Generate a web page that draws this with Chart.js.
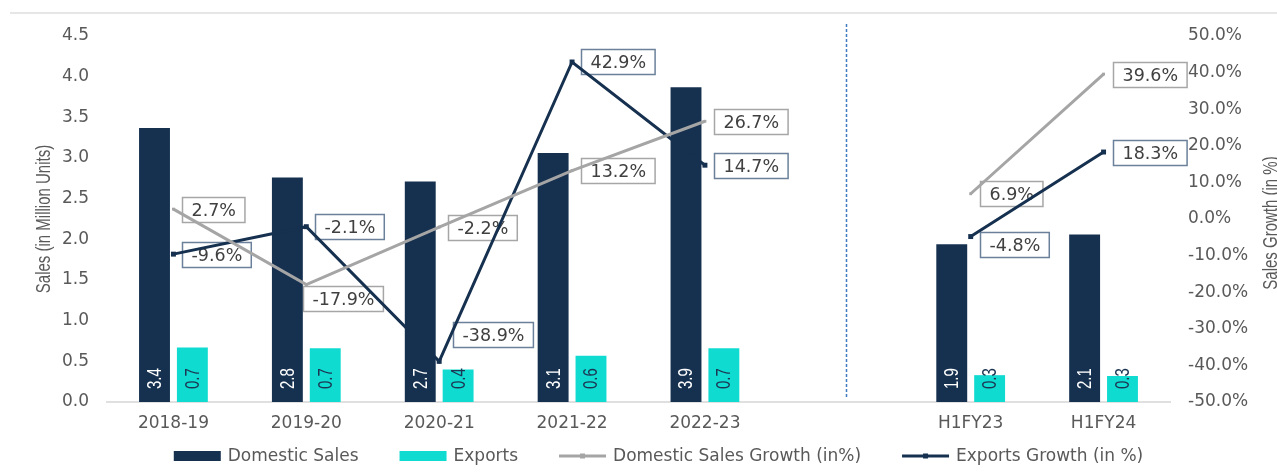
<!DOCTYPE html>
<html><head><meta charset="utf-8">
<script src="https://cdn.jsdelivr.net/npm/chart.js@4.4.1/dist/chart.umd.min.js"></script>
<style>html,body{margin:0;padding:0;background:#fff;}canvas{display:block;}</style>
</head><body>
<canvas id="c" width="1277" height="475"></canvas>
<script>
// ---- data ----
const categories = ['2018-19', '2019-20', '2020-21', '2021-22', '2022-23', '', 'H1FY23', 'H1FY24'];
const domesticSales = [3.37, 2.76, 2.71, 3.06, 3.87, null, 1.94, 2.06];
const exportsSales = [0.67, 0.66, 0.40, 0.57, 0.66, null, 0.33, 0.32];
const domesticGrowth = [2.7, -17.9, -2.2, 13.2, 26.7, null, 6.9, 39.6];
const exportsGrowth = [-9.6, -2.1, -38.9, 42.9, 14.7, null, -4.8, 18.3];
const seriesNames = ['Domestic Sales', 'Exports', 'Domestic Sales Growth (in%)', 'Exports Growth (in %)'];
const leftTitle = 'Sales (in Million Units)';
const rightTitle = 'Sales Growth (in %)';

// ---- styles ----
const NAVY = '#16304f', CYAN = '#10dbd1', GREY = '#a5a5a5';
const TXT = '#595959';
const FONT = '"DejaVu Sans", Verdana, sans-serif';

const decor = {
  id: 'decor',
  beforeDraw(chart) {
    const ctx = chart.ctx, ca = chart.chartArea, xs = chart.scales.x;
    ctx.save();
    ctx.fillStyle = '#fff';
    ctx.fillRect(0, 0, chart.width, chart.height);
    ctx.strokeStyle = '#e6e6e6'; ctx.lineWidth = 2;
    ctx.beginPath(); ctx.moveTo(10, 13); ctx.lineTo(chart.width, 13); ctx.stroke();
    const step = xs.getPixelForValue(1) - xs.getPixelForValue(0);
    const px = Math.round(xs.getPixelForValue(5) + 0.06 * step) + 0.5;
    ctx.strokeStyle = '#3f7bc0'; ctx.lineWidth = 1.5; ctx.setLineDash([3, 2]);
    ctx.beginPath(); ctx.moveTo(px, ca.top - 12); ctx.lineTo(px, ca.bottom - 5); ctx.stroke();
    ctx.restore();
  },
  beforeDatasetsDraw(chart) {
    // growth labels (drawn beneath lines, like the reference)
    const ctx = chart.ctx;
    ctx.save();
    ctx.font = '17.5px ' + FONT;
    [2, 3].forEach(di => {
      const ds = chart.data.datasets[di];
      const meta = chart.getDatasetMeta(di);
      ds.data.forEach((v, i) => {
        if (v === null) return;
        const pt = meta.data[i];
        const sh = (ds.labelShift && ds.labelShift[i]) || [0, 0];
        const t = v.toFixed(1) + '%';
        const w = ctx.measureText(t).width;
        const bw = w + 18, bh = 25;
        const left = Math.round(pt.x + 9 + sh[0]) + 0.5;
        const top = Math.round(pt.y + sh[1] - bh / 2) + 0.5;
        ctx.fillStyle = '#fff';
        ctx.fillRect(left, top, bw, bh);
        ctx.strokeStyle = ds.labelBorder; ctx.lineWidth = 1.5;
        ctx.strokeRect(left, top, bw, bh);
        ctx.fillStyle = '#404040';
        ctx.textAlign = 'center'; ctx.textBaseline = 'middle';
        ctx.fillText(t, left + bw / 2, top + bh / 2 + 1);
      });
    });
    ctx.restore();
  },
  afterDatasetsDraw(chart) {
    // bar value labels, rotated
    const ctx = chart.ctx;
    [0, 1].forEach(di => {
      const ds = chart.data.datasets[di];
      const meta = chart.getDatasetMeta(di);
      ds.data.forEach((v, i) => {
        if (v === null) return;
        const bar = meta.data[i];
        ctx.save();
        ctx.translate(bar.x, bar.base - 13);
        ctx.rotate(-Math.PI / 2);
        ctx.scale(1, 1.4);
        ctx.font = '15px "Liberation Sans", Arial, sans-serif';
        ctx.fillStyle = ds.valueColor;
        ctx.textAlign = 'left'; ctx.textBaseline = 'middle';
        ctx.fillText(v.toFixed(1), 0, 0.5);
        ctx.restore();
      });
    });
  },
  afterDraw(chart) {
    const ctx = chart.ctx, ca = chart.chartArea;
    ctx.save();
    // axis titles
    ctx.font = '15px "Liberation Sans", Arial, sans-serif';
    ctx.fillStyle = TXT; ctx.textAlign = 'center'; ctx.textBaseline = 'middle';
    ctx.save(); ctx.translate(45, (ca.top + ca.bottom) / 2); ctx.rotate(-Math.PI / 2); ctx.scale(1, 1.3);
    ctx.fillText(leftTitle, 0, 0); ctx.restore();
    ctx.save(); ctx.translate(1272, (ca.top + ca.bottom) / 2 + 4); ctx.rotate(-Math.PI / 2); ctx.scale(1, 1.3);
    ctx.fillText(rightTitle, 0, 0); ctx.restore();
    // legend
    ctx.font = '17px ' + FONT;
    const sw = 47, g1 = 7, g2 = 41, y = 456;
    const items = chart.data.datasets.map(ds => ({ ds, w: ctx.measureText(ds.label).width }));
    const total = items.reduce((a, it) => a + sw + g1 + it.w, 0) + g2 * (items.length - 1);
    let x = chart.width / 2 + 20 - total / 2;
    items.forEach(it => {
      const ds = it.ds;
      if (ds.type === 'line') {
        ctx.strokeStyle = ds.borderColor; ctx.lineWidth = 3;
        ctx.beginPath(); ctx.moveTo(x, y); ctx.lineTo(x + sw, y); ctx.stroke();
        ctx.fillStyle = ds.borderColor;
        ctx.fillRect(x + sw / 2 - 2.5, y - 2.5, 5, 5);
      } else {
        ctx.fillStyle = ds.backgroundColor;
        ctx.fillRect(x, y - 5, sw, 10);
      }
      ctx.fillStyle = TXT; ctx.textAlign = 'left'; ctx.textBaseline = 'middle';
      ctx.fillText(ds.label, x + sw + g1, y + 1);
      x += sw + g1 + it.w + g2;
    });
    ctx.restore();
  }
};

new Chart(document.getElementById('c'), {
  type: 'bar',
  data: {
    labels: categories,
    datasets: [
      { label: seriesNames[0], data: domesticSales, backgroundColor: NAVY, yAxisID: 'y', order: 1,
        categoryPercentage: 0.57, barPercentage: 0.816, valueColor: '#ffffff' },
      { label: seriesNames[1], data: exportsSales, backgroundColor: CYAN, yAxisID: 'y', order: 1,
        categoryPercentage: 0.57, barPercentage: 0.816, valueColor: '#1b3552' },
      { type: 'line', label: seriesNames[2], data: domesticGrowth, yAxisID: 'y1', order: 0,
        borderColor: GREY, backgroundColor: GREY, borderWidth: 3, tension: 0, spanGaps: false,
        pointStyle: 'rect', pointRadius: 2, pointBackgroundColor: GREY, pointBorderWidth: 0,
        labelBorder: '#a6a6a6',
        labelShift: [[0, 0], [-12, 14], [0, 0], [0, 0], [0, 0], [0, 0], [0, 0], [0, 0]] },
      { type: 'line', label: seriesNames[3], data: exportsGrowth, yAxisID: 'y1', order: 0,
        borderColor: NAVY, backgroundColor: NAVY, borderWidth: 3, tension: 0, spanGaps: false,
        pointStyle: 'rect', pointRadius: 3.5, pointBackgroundColor: NAVY, pointBorderWidth: 0,
        labelBorder: '#6b819b',
        labelShift: [[0, 0], [0, 0], [5, -27], [0, 0], [0, 0], [0, 0], [0, 8], [0, 0]] }
    ]
  },
  options: {
    responsive: false, animation: false, devicePixelRatio: 1,
    layout: { padding: { top: 36, bottom: 43, left: 0, right: 0 } },
    plugins: { legend: { display: false }, tooltip: { enabled: false } },
    scales: {
      x: {
        grid: { display: false, drawTicks: false },
        border: { color: '#e0e0e0', width: 2 },
        ticks: { color: TXT, font: { family: FONT, size: 17 }, padding: 11, autoSkip: false, maxRotation: 0 },
        afterFit: s => { s.height = 30; }
      },
      y: {
        position: 'left', min: 0, max: 4.5,
        grid: { display: false, drawTicks: false }, border: { display: false },
        ticks: { stepSize: 0.5, color: TXT, font: { family: FONT, size: 17 }, padding: 18,
                 callback: v => Number(v).toFixed(1) },
        afterFit: s => { s.width = 107; }
      },
      y1: {
        position: 'right', min: -50, max: 50,
        grid: { display: false, drawTicks: false }, border: { display: false },
        ticks: { stepSize: 10, color: TXT, font: { family: FONT, size: 17 }, padding: 18,
                 callback: v => Number(v).toFixed(1) + '%' },
        afterFit: s => { s.width = 107; }
      }
    }
  },
  plugins: [decor]
});
</script>
</body></html>
